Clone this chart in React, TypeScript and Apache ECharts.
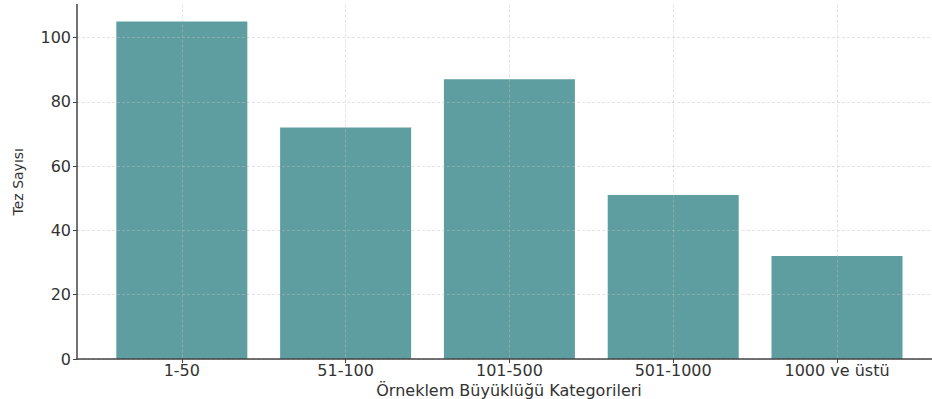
import React, { useEffect, useRef } from "react";
import * as echarts from "echarts";

const categories = ["1-50", "51-100", "101-500", "501-1000", "1000 ve üstü"];
const thesisCounts = [105, 72, 87, 51, 32];
const yTicks = [0, 20, 40, 60, 80, 100];
const xTitle = "Örneklem Büyüklüğü Kategorileri";
const yTitle = "Tez Sayısı";

export default function App() {
  const ref = useRef<HTMLDivElement>(null);
  useEffect(() => {
    if (!ref.current) return;
    const chart = echarts.init(ref.current, undefined, { renderer: "svg" });
    const positions = categories.map((_, i) => i);
    chart.setOption({
      animation: false,
      backgroundColor: "#ffffff",
      grid: {
        left: 77,
        right: 0,
        top: 4.5,
        bottom: 40,
        containLabel: false,
        outerBoundsMode: "none",
      },
      xAxis: {
        type: "value",
        min: -0.64,
        max: 4.58,
        z: 3,
        name: xTitle,
        nameLocation: "middle",
        nameGap: 21,
        nameTextStyle: {
          fontFamily: "DejaVu Sans",
          fontSize: 16,
          color: "#333",
          padding: [0, 0, 0, 9],
        },
        axisLine: { show: true, onZero: false, lineStyle: { color: "#444", width: 1.5 } },
        axisTick: { show: true, length: 4, customValues: positions, lineStyle: { color: "#444" } },
        axisLabel: {
          customValues: positions,
          formatter: (v: number) => categories[Math.round(v)] ?? "",
          fontFamily: "DejaVu Sans",
          fontSize: 16,
          color: "#333",
          margin: 3,
        },
        splitLine: {
          show: true,
          lineStyle: { color: "rgba(190,190,190,0.55)", type: [3, 2], width: 0.8 },
        },
      },
      yAxis: {
        type: "value",
        min: 0,
        max: 110.25,
        z: 3,
        name: yTitle,
        nameLocation: "middle",
        nameGap: 52,
        nameTextStyle: { fontFamily: "DejaVu Sans", fontSize: 14, color: "#333" },
        axisLine: { show: true, onZero: false, lineStyle: { color: "#444", width: 1.5 } },
        axisTick: { show: true, length: 4, customValues: yTicks, lineStyle: { color: "#444" } },
        axisLabel: {
          customValues: yTicks,
          fontFamily: "DejaVu Sans",
          fontSize: 16,
          color: "#333",
          margin: 6,
        },
        splitLine: {
          show: true,
          lineStyle: { color: "rgba(190,190,190,0.55)", type: [3, 2], width: 0.8 },
        },
      },
      series: [
        {
          type: "bar",
          data: thesisCounts.map((v, i) => [i, v]),
          barWidth: 131,
          itemStyle: { color: "#5F9EA0" },
          z: 2,
        },
      ],
    });
    return () => chart.dispose();
  }, []);
  return (
    <div
      ref={ref}
      style={{ position: "fixed", left: 0, top: 0, width: 932, height: 399 }}
    />
  );
}
